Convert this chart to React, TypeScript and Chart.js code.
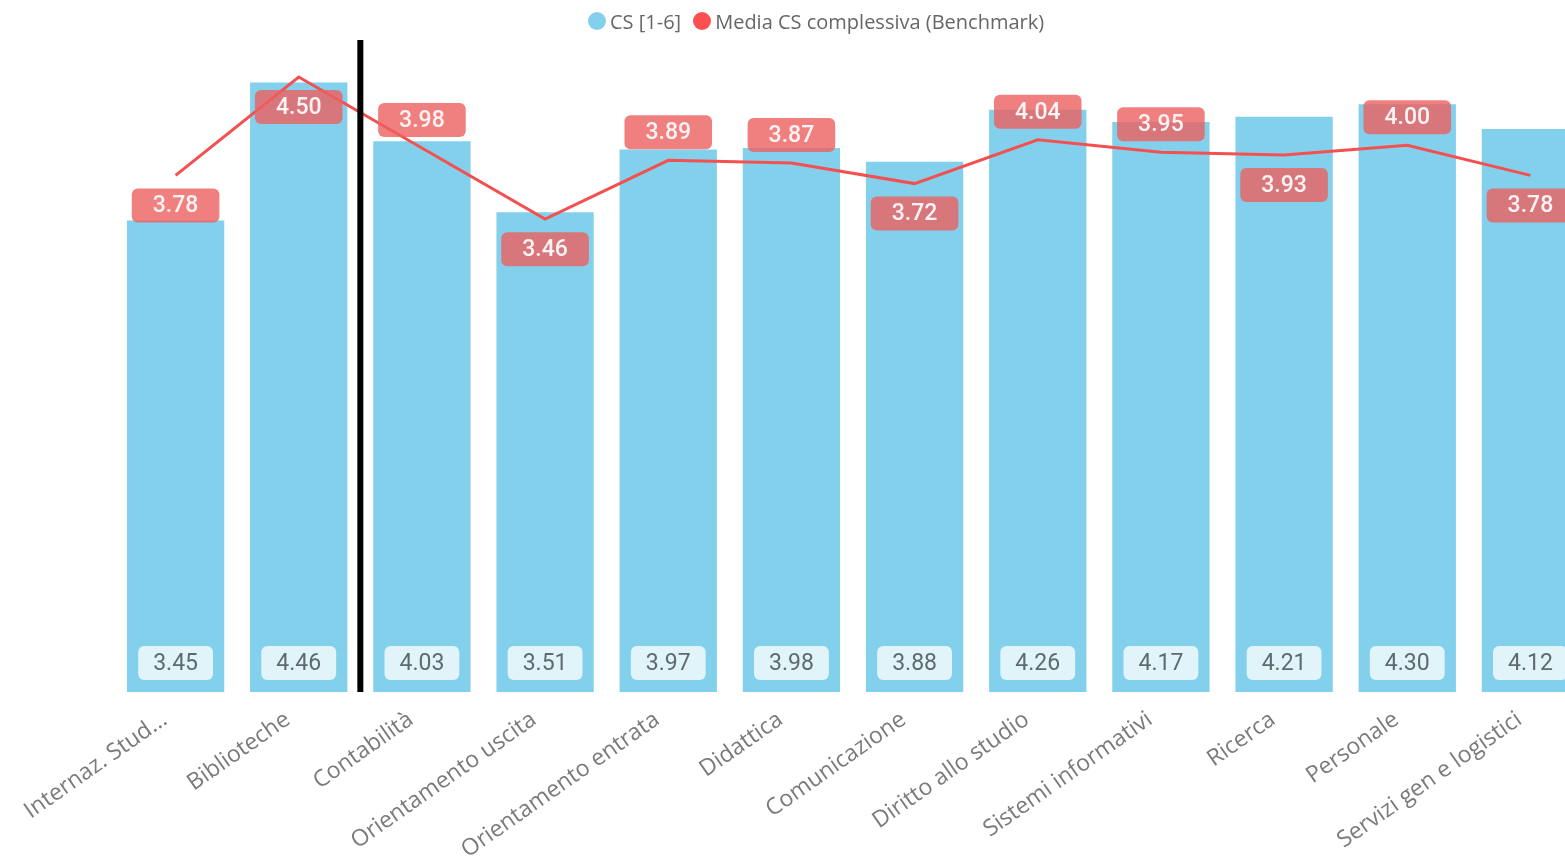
import React, { useEffect, useRef } from "react";
import { Chart, registerables } from "chart.js";

Chart.register(...registerables);

const categories = [
  "Internaz. Stud...",
  "Biblioteche",
  "Contabilità",
  "Orientamento uscita",
  "Orientamento entrata",
  "Didattica",
  "Comunicazione",
  "Diritto allo studio",
  "Sistemi informativi",
  "Ricerca",
  "Personale",
  "Servizi gen e logistici",
];
const csValues = [3.45, 4.46, 4.03, 3.51, 3.97, 3.98, 3.88, 4.26, 4.17, 4.21, 4.3, 4.12];
const benchmarkValues = [3.78, 4.5, 3.98, 3.46, 3.89, 3.87, 3.72, 4.04, 3.95, 3.93, 4.0, 3.78];
const benchmarkLabelSide = [
  "below", "below", "above", "below", "above", "above",
  "below", "above", "above", "below", "above", "below",
];
const seriesNames = ["CS [1-6]", "Media CS complessiva (Benchmark)"];
const dividerAfterIndex = 1;

const BAR_COLOR = "rgb(130,208,235)";
const LINE_COLOR = "rgb(245,80,80)";

const labelPlugin = {
  id: "customLabels",
  afterDatasetsDraw(chart: any) {
    const ctx = chart.ctx;
    const area = chart.chartArea;
    const xScale = chart.scales.x;

    // divider line between categories
    const xa = xScale.getPixelForValue(dividerAfterIndex);
    const xb = xScale.getPixelForValue(dividerAfterIndex + 1);
    ctx.save();
    ctx.fillStyle = "#000";
    ctx.fillRect((xa + xb) / 2 - 3, area.top + 4, 6, area.bottom - area.top - 4);
    ctx.restore();

    const barMeta = chart.getDatasetMeta(0);
    const lineMeta = chart.getDatasetMeta(1);

    ctx.save();
    ctx.textAlign = "center";
    ctx.textBaseline = "middle";

    // bar labels at base
    ctx.font = "23px Roboto";
    barMeta.data.forEach((el: any, i: number) => {
      const txt = csValues[i].toFixed(2);
      const w = ctx.measureText(txt).width + 30;
      const h = 34;
      const cx = el.x;
      const cy = area.bottom - 29;
      ctx.fillStyle = "rgba(242,250,253,0.85)";
      ctx.beginPath();
      ctx.roundRect(cx - w / 2, cy - h / 2, w, h, 6);
      ctx.fill();
      ctx.fillStyle = "#5f6a6f";
      ctx.fillText(txt, cx, cy + 1);
    });

    // line labels
    ctx.font = "500 23px Roboto";
    lineMeta.data.forEach((el: any, i: number) => {
      const txt = benchmarkValues[i].toFixed(2);
      const w = ctx.measureText(txt).width + 42;
      const h = 34;
      const cx = el.x;
      const cy = benchmarkLabelSide[i] === "above" ? el.y - 28 : el.y + 30;
      ctx.fillStyle = "rgba(236,96,96,0.8)";
      ctx.beginPath();
      ctx.roundRect(cx - w / 2, cy - h / 2, w, h, 6);
      ctx.fill();
      ctx.fillStyle = "#fff3f3";
      ctx.fillText(txt, cx, cy + 1);
    });
    ctx.restore();
  },
};

export default function App() {
  const canvasRef = useRef<HTMLCanvasElement | null>(null);

  useEffect(() => {
    if (!canvasRef.current) return;
    const chart = new Chart(canvasRef.current, {
      type: "bar",
      data: {
        labels: categories,
        datasets: [
          {
            type: "bar",
            label: seriesNames[0],
            data: csValues,
            backgroundColor: BAR_COLOR,
            categoryPercentage: 1,
            barPercentage: 0.79,
            order: 2,
          },
          {
            type: "line",
            label: seriesNames[1],
            data: benchmarkValues,
            borderColor: LINE_COLOR,
            borderWidth: 3,
            pointRadius: 0,
            tension: 0,
            order: 1,
          } as any,
        ],
      },
      options: {
        animation: false,
        responsive: false,
        maintainAspectRatio: false,
        layout: { padding: { left: 114, top: 36, right: 0, bottom: 0 } },
        plugins: {
          legend: { display: false },
          tooltip: { enabled: false },
        },
        scales: {
          x: {
            grid: { display: false, drawTicks: false },
            border: { display: false },
            ticks: {
              color: "#7a7a7a",
              font: { family: "Open Sans", size: 23 },
              minRotation: 35,
              maxRotation: 35,
              autoSkip: false,
              padding: 14,
              labelOffset: -11,
            },
            afterFit: (scale: any) => {
              scale.height = 165;
            },
          },
          y: { display: false, min: 0, max: 4.8 },
        },
      },
      plugins: [labelPlugin],
    });
    return () => chart.destroy();
  }, []);

  const legendItem = (color: string, text: string, ml: number) => (
    <div style={{ display: "flex", alignItems: "center", marginLeft: ml }}>
      <span
        style={{
          display: "inline-block",
          width: 18,
          height: 18,
          borderRadius: "50%",
          background: color,
          marginRight: 4,
        }}
      />
      <span>{text}</span>
    </div>
  );

  return (
    <div
      style={{
        position: "absolute",
        left: 0,
        top: 0,
        width: 1565,
        height: 857,
        overflow: "hidden",
        background: "#fff",
      }}
    >
      <canvas ref={canvasRef} width={1592} height={857} style={{ position: "absolute", left: 0, top: 0 }} />
      <div
        style={{
          position: "absolute",
          left: 588,
          top: 8,
          height: 26,
          display: "flex",
          alignItems: "center",
          fontFamily: "Open Sans",
          fontSize: 20,
          color: "#666",
          whiteSpace: "nowrap",
        }}
      >
        {legendItem("rgb(130,208,235)", seriesNames[0], 0)}
        {legendItem("rgb(250,80,80)", seriesNames[1], 12)}
      </div>
    </div>
  );
}
